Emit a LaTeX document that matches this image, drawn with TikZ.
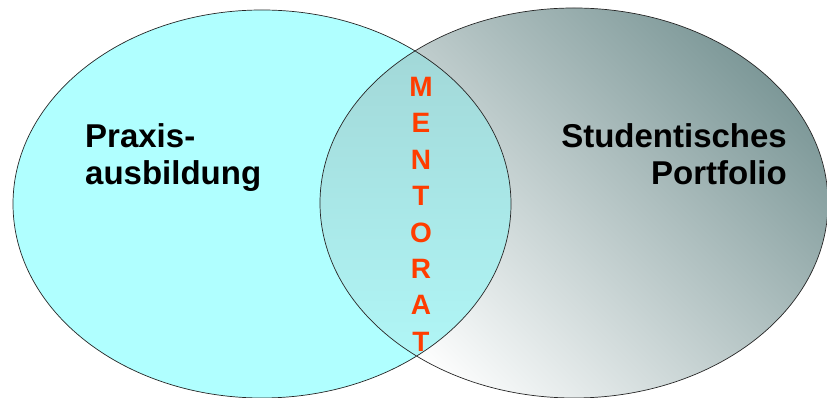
\documentclass[tikz,border=0pt]{standalone}
\usepackage{fontspec}
\setmainfont{Liberation Sans}
\definecolor{praxiscyan}{HTML}{B0FFFF}
\definecolor{portdark}{HTML}{7E9999}
\definecolor{portmid}{HTML}{D0E0E0}
\definecolor{overtop}{HTML}{A0D4D4}
\definecolor{overbottom}{HTML}{B2FAFA}
\definecolor{mentorred}{HTML}{FF3D00}
\begin{document}
\begin{tikzpicture}[x=1pt,y=1pt,
    label text/.style={font=\fontsize{33}{37}\selectfont\bfseries, inner sep=0pt},
    outline/.style={draw=black!85, line width=0.7pt}]
                \useasboundingbox (0,0) rectangle (827,398);
                % left hand
                \fill[praxiscyan] (262,194) ellipse [x radius=249, y radius=194];
                % right hand
                \shade[top color=portdark, middle color=portmid,
                    bottom color=white, shading angle=-45]
                    (574,195) ellipse [x radius=254, y radius=195];
                % overlap
                \begin{scope}
                \clip (262,194) ellipse [x radius=249, y radius=194];
                \shade[top color=overtop, bottom color=overbottom]
                    (574,195) ellipse [x radius=254, y radius=195];
                \end{scope}
                % outline
                \draw[outline] (262,194) ellipse [x radius=249, y radius=194]
                    (574,195) ellipse [x radius=254, y radius=195];
                % texts
                \node[label text, anchor=north west, align=left] (praxis)
                    at (85,275) {Praxis-\\ausbildung};
                \node[label text, anchor=north east, align=right] (portfolio)
                    at (787,275) {Studentisches\\Portfolio};
                \node[inner sep=0pt, anchor=north, align=center, text=mentorred,
                    font=\fontsize{28}{36.4}\selectfont\bfseries] (mentorat)
                    at (421,321) {M\\E\\N\\T\\O\\R\\A\\T};
            \end{tikzpicture}
\end{document}
